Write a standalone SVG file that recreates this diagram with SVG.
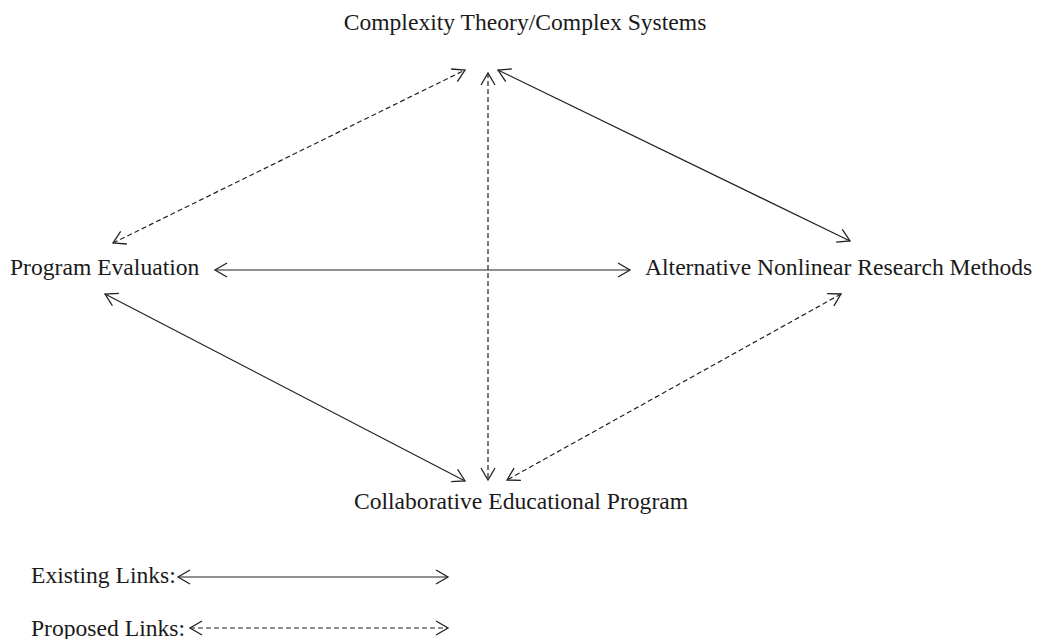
<svg xmlns="http://www.w3.org/2000/svg" width="1042" height="639" viewBox="0 0 1042 639">
  <style>
    .lbl { font-family: "Liberation Serif", "Times New Roman", serif; font-size: 23.6px; fill: #1a1a1a; }
    .link { stroke: #222; stroke-width: 1.2; fill: none; marker-start: url(#head); marker-end: url(#head); }
    .proposed { stroke-dasharray: 5 3; }
  </style>
  <defs>
    <marker id="head" viewBox="-1 -8 15 16" refX="12" refY="0" markerWidth="15" markerHeight="16" markerUnits="userSpaceOnUse" orient="auto-start-reverse">
      <path d="M0,-7 L12,0 L0,7" fill="none" stroke="#222" stroke-width="1.3"/>
    </marker>
  </defs>
  <rect width="1042" height="639" fill="#fff"/>

  <g id="connectors">
    <line class="link proposed" x1="113" y1="243" x2="465" y2="70"/>
    <line class="link proposed" x1="488" y1="73" x2="488" y2="480"/>
    <line class="link" x1="498" y1="70" x2="850" y2="241"/>
    <line class="link" x1="215" y1="270" x2="630" y2="270"/>
    <line class="link" x1="105" y1="294" x2="465" y2="481"/>
    <line class="link proposed" x1="841" y1="294" x2="507" y2="480"/>
  </g>

  <g id="node-complexity">
    <text class="lbl" x="525" y="30" text-anchor="middle">Complexity Theory/Complex Systems</text>
  </g>
  <g id="node-evaluation">
    <text class="lbl" x="10" y="275">Program Evaluation</text>
  </g>
  <g id="node-methods">
    <text class="lbl" x="645" y="275">Alternative Nonlinear Research Methods</text>
  </g>
  <g id="node-program">
    <text class="lbl" x="521" y="509" text-anchor="middle">Collaborative Educational Program</text>
  </g>

  <g id="legend">
    <text class="lbl" x="31" y="583">Existing Links:</text>
    <line class="link" x1="178" y1="577" x2="448" y2="577"/>
    <text class="lbl" x="31" y="636">Proposed Links:</text>
    <line class="link proposed" x1="190" y1="628" x2="448" y2="628"/>
  </g>
</svg>
